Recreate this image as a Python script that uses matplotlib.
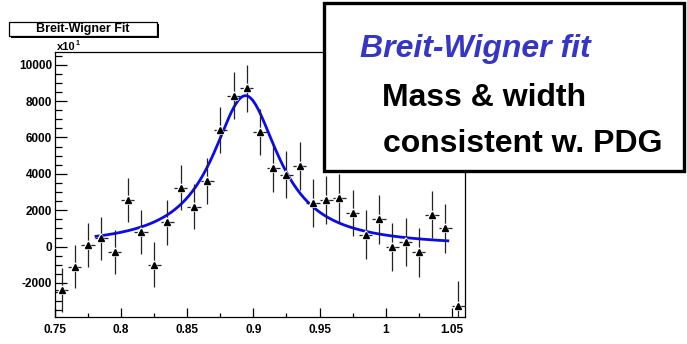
import numpy as np
import matplotlib
matplotlib.use("Agg")
import matplotlib.pyplot as plt
from matplotlib.patches import Rectangle
from matplotlib.ticker import MultipleLocator

plt.rcParams["font.family"] = ["Liberation Sans", "DejaVu Sans"]
plt.rcParams["axes.unicode_minus"] = False

# measured spectrum (bin centres, counts / 10, stat. errors)
mass = [0.755, 0.765, 0.775, 0.785, 0.795, 0.805, 0.815, 0.825, 0.835, 0.845,
        0.855, 0.865, 0.875, 0.885, 0.895, 0.905, 0.915, 0.925, 0.935, 0.945,
        0.955, 0.965, 0.975, 0.985, 0.995, 1.005, 1.015, 1.025, 1.035, 1.045,
        1.055]
counts = [-2400, -1100, 100, 450, -300, 2550, 800, -1000, 1350, 3250,
          2200, 3600, 6400, 8300, 8700, 6300, 4300, 3950, 4450, 2400,
          2550, 2650, 1850, 650, 1500, 0, 250, -300, 1750, 1000,
          -3250]
errors = [1200, 1200, 1210, 1200, 1210, 1210, 1220, 1230, 1240, 1250,
          1250, 1250, 1280, 1280, 1280, 1280, 1290, 1300, 1310, 1320,
          1320, 1330, 1280, 1350, 1340, 1320, 1320, 1350, 1300, 1330,
          1340]
half_bin = 0.005

# Breit-Wigner fit result
bw_mass = 0.894
bw_width = 0.061
bw_amp = 8300
fit_range = (0.781, 1.047)

fig = plt.figure(figsize=(6.87, 3.44), dpi=100)
ax = fig.add_axes([0.0801, 0.0785, 0.5968, 0.7703])

xf = np.linspace(*fit_range, 300)
g2 = (bw_width / 2) ** 2
ax.plot(xf, bw_amp * g2 / ((xf - bw_mass) ** 2 + g2), color="#0a0aee", lw=2.0, zorder=2)

ax.errorbar(mass, counts, yerr=errors, xerr=half_bin, fmt="none",
            ecolor="#222222", elinewidth=0.9, capsize=0, zorder=3)
ax.plot(mass, counts, ls="none", marker="^", ms=6, color="black",
        mec="white", mew=1.3, zorder=4)
ax.plot(mass, counts, ls="none", marker="^", ms=5, color="black", zorder=5)

ax.set_xlim(0.75, 1.06)
ax.set_ylim(-3870, 10700)
ax.xaxis.set_major_locator(MultipleLocator(0.05))
ax.xaxis.set_minor_locator(MultipleLocator(0.025))
ax.yaxis.set_major_locator(MultipleLocator(2000))
ax.yaxis.set_minor_locator(MultipleLocator(500))
ax.xaxis.set_major_formatter(plt.FuncFormatter(lambda v, p: f"{v:g}"))
ax.tick_params(which="both", direction="in", top=False, right=False,
               labelsize=8.5, width=0.9)
ax.tick_params(axis="x", which="major", length=6.5, pad=5)
ax.tick_params(axis="x", which="minor", length=3)
ax.tick_params(axis="y", which="major", length=8.5, pad=2)
ax.tick_params(axis="y", which="minor", length=5)
for lab in ax.get_xticklabels() + ax.get_yticklabels():
    lab.set_fontweight("bold")
for sp in ax.spines.values():
    sp.set_linewidth(0.9)

# exponent label above the y axis
fig.text(57 / 687, 1 - 50 / 344, "x10", fontsize=8, fontweight="bold", va="baseline")
fig.text(76 / 687, 1 - 45 / 344, "1", fontsize=5, fontweight="bold", va="baseline")

# histogram title box with drop shadow
fig.patches.append(Rectangle((11 / 687, 1 - 38 / 344), 148 / 687, 14 / 344,
                             transform=fig.transFigure, facecolor="black",
                             edgecolor="black", lw=0))
fig.patches.append(Rectangle((9 / 687, 1 - 36 / 344), 148 / 687, 14 / 344,
                             transform=fig.transFigure, facecolor="white",
                             edgecolor="black", lw=0.9))
fig.text(83 / 687, 1 - 29 / 344, "Breit-Wigner Fit", fontsize=9,
         fontweight="bold", ha="center", va="center")

# annotation panel
fig.patches.append(Rectangle((324 / 687, 1 - 171 / 344), 360 / 687, 168 / 344,
                             transform=fig.transFigure, facecolor="white",
                             edgecolor="black", lw=2.4, zorder=10))
fig.text(360 / 687, 1 - 57 / 344, "Breit-Wigner fit", fontsize=23,
         fontweight="bold", style="italic", color="#3535c8", va="baseline", zorder=11)
fig.text(382 / 687, 1 - 106 / 344, "Mass & width", fontsize=23,
         fontweight="bold", va="baseline", zorder=11)
fig.text(383 / 687, 1 - 152 / 344, "consistent w. PDG", fontsize=23,
         fontweight="bold", va="baseline", zorder=11)

fig.savefig("out.png", dpi=100)
